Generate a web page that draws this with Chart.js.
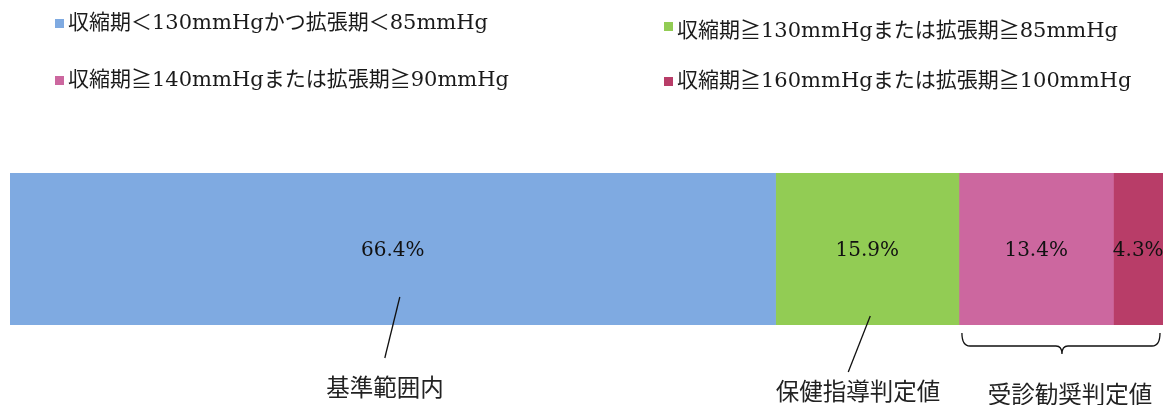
<!DOCTYPE html>
<html>
<head>
<meta charset="utf-8">
<script src="https://cdn.jsdelivr.net/npm/chart.js@4"></script>
<style>
  html, body { margin: 0; padding: 0; background: #fff; }
  #wrap { width: 1163px; height: 405px; position: relative; }
</style>
</head>
<body>
<div id="wrap"><canvas id="grafico"></canvas></div>
<script>
// Datos
var categorias = ["血圧"];
var series = [
    "収縮期＜130mmHgかつ拡張期＜85mmHg",
    "収縮期≧130mmHgまたは拡張期≧85mmHg",
    "収縮期≧140mmHgまたは拡張期≧90mmHg",
    "収縮期≧160mmHgまたは拡張期≧100mmHg"
];
var valores = [66.4, 15.9, 13.4, 4.3];
var colores = ["#7faae1", "#92cc54", "#cc679f", "#b83d68"];
var grupos = ["基準範囲内", "保健指導判定値", "受診勧奨判定値"];

var serif = "'DejaVu Serif', 'Noto Sans CJK JP', serif";
var gothic = "'Noto Sans CJK JP', sans-serif";

// Leyenda dibujada a mano (2 columnas)
var leyenda = {
    id: "leyenda",
    afterDraw: function (chart) {
        var ctx = chart.ctx;
        var pos = [[55, 23], [664, 31], [55, 80], [664, 81]];
        ctx.save();
        ctx.font = "21px " + serif;
        ctx.textBaseline = "middle";
        chart.data.datasets.forEach(function (ds, i) {
            ctx.fillStyle = ds.backgroundColor;
            ctx.fillRect(pos[i][0], pos[i][1] - (i === 1 ? 9 : 4), 9, 9);
            ctx.fillStyle = "#1a1a1a";
            ctx.fillText(ds.label, pos[i][0] + 13, pos[i][1] + 1);
        });
        ctx.restore();
    }
};

// Etiquetas de porcentaje y anotaciones
var etiquetas = {
    id: "etiquetas",
    afterDatasetsDraw: function (chart) {
        var ctx = chart.ctx;
        var x = chart.scales.x;
        var area = chart.chartArea;
        var cy = (area.top + area.bottom) / 2 + 2;
        var acum = 0;
        var bordes = [0];
        ctx.save();
        ctx.font = "20px " + serif;
        ctx.fillStyle = "#111";
        ctx.textAlign = "center";
        ctx.textBaseline = "middle";
        valores.forEach(function (v) {
            var cx = x.getPixelForValue(acum + v / 2);
            ctx.fillText(v.toFixed(1) + "%", cx, cy);
            acum += v;
            bordes.push(acum);
        });

        ctx.strokeStyle = "#111";
        ctx.lineWidth = 1.3;
        // línea 基準範囲内
        var b1 = x.getPixelForValue(bordes[1] / 2);
        ctx.beginPath();
        ctx.moveTo(b1 + 7, area.bottom - 28);
        ctx.lineTo(b1 - 8, area.bottom + 33);
        ctx.stroke();
        // línea 保健指導判定値
        var b2 = x.getPixelForValue((bordes[1] + bordes[2]) / 2);
        ctx.beginPath();
        ctx.moveTo(b2 + 3, area.bottom - 9);
        ctx.lineTo(b2 - 19, area.bottom + 47);
        ctx.stroke();
        // llave 受診勧奨判定値
        var l = x.getPixelForValue(bordes[2]) + 3;
        var r = x.getPixelForValue(bordes[4]) - 3;
        var m = (l + r) / 2 + 1;
        var y0 = area.bottom + 8, y1 = area.bottom + 21;
        ctx.beginPath();
        ctx.moveTo(l, y0);
        ctx.quadraticCurveTo(l, y1, l + 8, y1);
        ctx.lineTo(m - 6, y1);
        ctx.quadraticCurveTo(m, y1, m, y1 + 8);
        ctx.quadraticCurveTo(m, y1, m + 6, y1);
        ctx.lineTo(r - 8, y1);
        ctx.quadraticCurveTo(r, y1, r, y0);
        ctx.stroke();

        ctx.font = "23.5px " + gothic;
        ctx.fillStyle = "#222";
        ctx.fillText(grupos[0], 385, area.bottom + 62);
        ctx.fillText(grupos[1], 858, area.bottom + 66);
        ctx.fillText(grupos[2], 1070, area.bottom + 69);
        ctx.restore();
    }
};

function cargaGrafico() {
    var datos = {
        labels: categorias,
        datasets: valores.map(function (v, i) {
            return {
                label: series[i],
                data: [v],
                backgroundColor: colores[i],
                borderWidth: 0,
                barPercentage: 1,
                categoryPercentage: 1
            };
        })
    };

    var config = {
        type: "bar",
        data: datos,
        options: {
            indexAxis: "y",
            responsive: true,
            maintainAspectRatio: false,
            animation: false,
            layout: {
                padding: { top: 173, bottom: 80, left: 10, right: 0 }
            },
            plugins: {
                legend: { display: false },
                tooltip: { enabled: false }
            },
            scales: {
                x: { stacked: true, min: 0, max: 100, display: false },
                y: { stacked: true, display: false }
            }
        },
        plugins: [leyenda, etiquetas]
    };

    new Chart(document.getElementById("grafico").getContext("2d"), config);
}

cargaGrafico();
</script>
</body>
</html>
